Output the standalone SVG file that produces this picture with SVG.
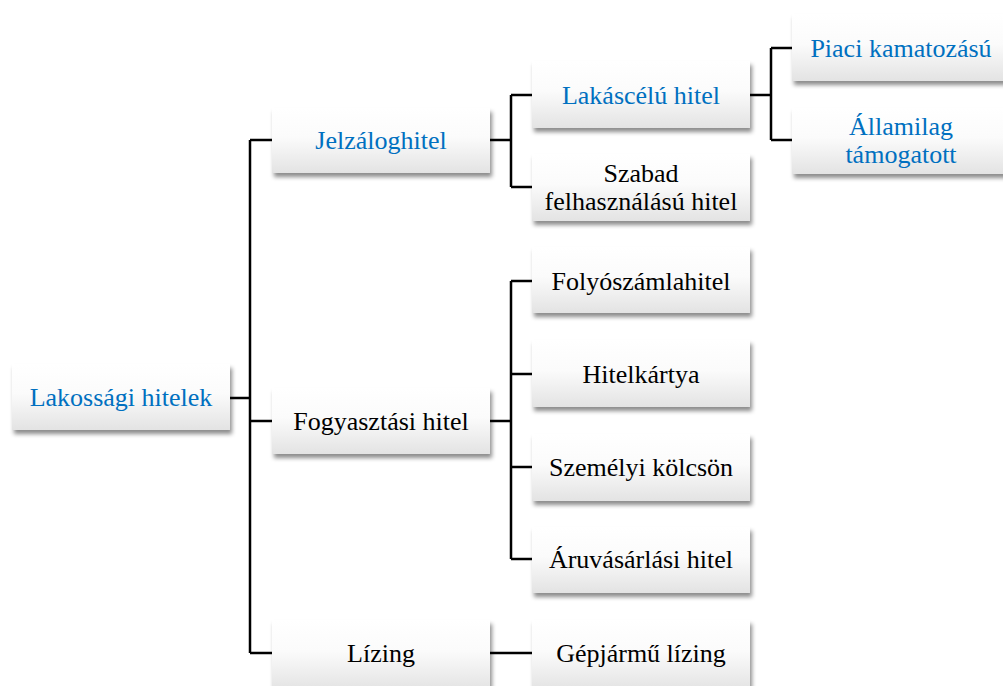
<svg xmlns="http://www.w3.org/2000/svg" width="1003" height="686" viewBox="0 0 1003 686">
<defs>
<linearGradient id="g" x1="0" y1="0" x2="0" y2="1">
<stop offset="0" stop-color="#ffffff"/>
<stop offset="0.45" stop-color="#fbfbfb"/>
<stop offset="1" stop-color="#e3e3e3"/>
</linearGradient>
<filter id="sh" x="-10%" y="-20%" width="125%" height="150%">
<feDropShadow dx="2" dy="4" stdDeviation="2" flood-color="#000" flood-opacity="0.45"/>
</filter>
</defs>
<style>
.box{fill:url(#g);filter:url(#sh);}
.t{font-family:"Liberation Serif","Times New Roman",serif;font-size:26px;text-anchor:middle;fill:#000;}
.b{fill:#0070C0;}
.c{stroke:#000;stroke-width:2.5;fill:none;}
</style>
<rect width="1003" height="686" fill="#fff"/>
<g id="connectors">
<path class="c" d="M230 398H250M250 140V653M250 140H272M250 421H272M250 653H272"/>
<path class="c" d="M490 140H511M511 95V187M511 95H532M511 187H532"/>
<path class="c" d="M750 95H771M771 48V140M771 48H792M771 140H792"/>
<path class="c" d="M490 421H511M511 281V559M511 281H532M511 374H532M511 467H532M511 559H532"/>
<path class="c" d="M490 653H532"/>
</g>
<g id="n-root"><rect class="box" x="12" y="364" width="218" height="66"/><text class="t b" x="121" y="406">Lakossági hitelek</text></g>
<g id="n-jelzalog"><rect class="box" x="272" y="108" width="218" height="65"/><text class="t b" x="381" y="149">Jelzáloghitel</text></g>
<g id="n-fogyasztasi"><rect class="box" x="272" y="388" width="218" height="66"/><text class="t" x="381" y="430">Fogyasztási hitel</text></g>
<g id="n-lizing"><rect class="box" x="272" y="620" width="218" height="70"/><text class="t" x="381" y="662">Lízing</text></g>
<g id="n-lakascelu"><rect class="box" x="532" y="61" width="218" height="67"/><text class="t b" x="641" y="104">Lakáscélú hitel</text></g>
<g id="n-szabad"><rect class="box" x="532" y="154" width="218" height="67"/><text class="t" x="641" y="182">Szabad</text><text class="t" x="641" y="210">felhasználású hitel</text></g>
<g id="n-piaci"><rect class="box" x="792" y="14" width="218" height="67"/><text class="t b" x="901" y="57">Piaci kamatozású</text></g>
<g id="n-allami"><rect class="box" x="792" y="108" width="218" height="66"/><text class="t b" x="901" y="135">Államilag</text><text class="t b" x="901" y="163">támogatott</text></g>
<g id="n-folyo"><rect class="box" x="532" y="247" width="218" height="66"/><text class="t" x="641" y="290">Folyószámlahitel</text></g>
<g id="n-hitelkartya"><rect class="box" x="532" y="340" width="218" height="67"/><text class="t" x="641" y="383">Hitelkártya</text></g>
<g id="n-szemelyi"><rect class="box" x="532" y="434" width="218" height="67"/><text class="t" x="641" y="476">Személyi kölcsön</text></g>
<g id="n-aru"><rect class="box" x="532" y="527" width="218" height="66"/><text class="t" x="641" y="568">Áruvásárlási hitel</text></g>
<g id="n-gepjarmu"><rect class="box" x="532" y="620" width="218" height="70"/><text class="t" x="641" y="662">Gépjármű lízing</text></g>
</svg>
